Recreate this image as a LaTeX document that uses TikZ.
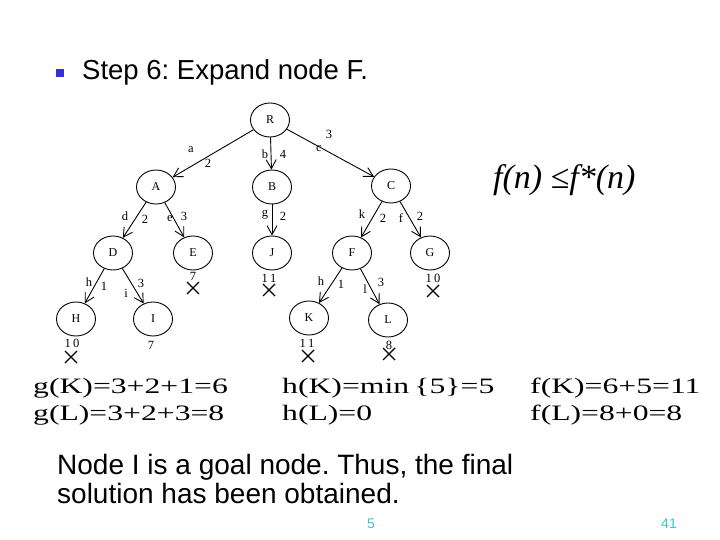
\documentclass[tikz,border=0pt]{standalone}
\usepackage{fontspec}
\setmainfont{Liberation Serif}
\newfontfamily\arial{Liberation Sans}
\usetikzlibrary{arrows.meta,shapes.geometric}
\definecolor{bulletblue}{RGB}{51,51,204}
\definecolor{pageteal}{RGB}{64,196,196}
\tikzset{
  st/.style={ellipse,draw,line width=0.9pt,minimum width=39pt,minimum height=34pt,inner sep=0pt,font=\fontsize{12}{12}\selectfont},
  edge/.style={line width=0.9pt,-{Straight Barb[length=9pt,width=10pt,line width=0.9pt]}},
  lab/.style={font=\fontsize{12.5}{12.5}\selectfont,inner sep=0pt},
  xmark/.pic={\draw[line width=1.4pt] (-6,-6)--(6,6) (-6,6)--(6,-6);},
  eq/.style={font=\fontsize{22}{22}\selectfont,anchor=base west,inner sep=0pt},
  body/.style={font=\arial\fontsize{28}{28}\selectfont,anchor=base west,inner sep=0pt}
}
\newcommand{\wide}[1]{\scalebox{1.44}[1]{#1}}
\frenchspacing
\begin{document}
\begin{tikzpicture}[x=1pt,y=-1pt]
\useasboundingbox (0,0) rectangle (720,540);
% title
\fill[bulletblue] (56,69) rectangle (64,77);
\node[font=\arial\fontsize{27.5}{27.5}\selectfont,anchor=base west,inner sep=0pt] (title) at (82,80) {Step 6: Expand node F.};
% tree nodes
\node[st] (R) at (270,120) {R};
\node[st] (A) at (156,187) {A};
\node[st] (B) at (272,187) {B};
\node[st] (C) at (391,186) {C};
\node[st] (D) at (113,253) {D};
\node[st] (E) at (193,253) {E};
\node[st] (J) at (272,253) {J};
\node[st] (F) at (352,253) {F};
\node[st] (G) at (430,253) {G};
\node[st] (H) at (76,319) {H};
\node[st] (I) at (153,319) {I};
\node[st] (K) at (309,318) {K};
\node[st] (L) at (388,320) {L};
% edges
\draw[edge] (R) -- (A);
\draw[edge] (R) -- (B);
\draw[edge] (R) -- (C);
\draw[edge] (A) -- (D);
\draw[edge] (A) -- (E);
\draw[edge] (B) -- (J);
\draw[edge] (C) -- (F);
\draw[edge] (C) -- (G);
\draw[edge] (D) -- (H);
\draw[edge] (D) -- (I);
\draw[edge] (F) -- (K);
\draw[edge] (F) -- (L);
% edge labels
\node[lab] (la) at (191,150) {a};  \node[lab] (wa) at (208,163) {2};
\node[lab] (lb) at (265,154) {b};  \node[lab] (wb) at (283,154) {4};
\node[lab] (lc) at (319,149) {c};  \node[lab] (wc) at (329,134) {3};
\node[lab] (ld) at (125,216) {d};  \node[lab] (wd) at (145,219) {2};
\node[lab] (le) at (170,219) {e};  \node[lab] (we) at (184,216) {3};
\node[lab] (lg) at (265,215) {g};  \node[lab] (wg) at (283,216) {2};
\node[lab] (lk) at (362,214) {k};  \node[lab] (wk) at (383,218) {2};
\node[lab] (lf) at (401,218) {f};  \node[lab] (wf) at (420,216) {2};
\node[lab] (lh) at (89,282) {h};   \node[lab] (wh) at (104,286) {1};
\node[lab] (li) at (126,293) {i};  \node[lab] (wi) at (141,283) {3};
\node[lab] (lh2) at (321,281) {h}; \node[lab] (wh2) at (341,284) {1};
\node[lab] (ll) at (365,289) {l};  \node[lab] (wl) at (381,282) {3};
% costs and crosses
\node[lab] (cE) at (193,276) {7};   \pic at (193,288) {xmark};
\node[lab] (cJ) at (269,278) {1\,1};  \pic at (269,290) {xmark};
\node[lab] (cG) at (433,278) {1\,0};  \pic at (433,291) {xmark};
\node[lab] (cH) at (72,343) {1\,0};   \pic at (71,357) {xmark};
\node[lab] (cI) at (151,345) {7};
\node[lab] (cK) at (307,343) {1\,1};  \pic at (308,356) {xmark};
\node[lab] (cL) at (389,345) {8};     \pic at (389,354) {xmark};
% f(n) <= f*(n)
\node[font=\fontsize{34}{34}\selectfont,anchor=base west,inner sep=0pt] (fn) at (493,189) {\itshape f(n) \upshape≤\itshape f*(n)};
% equations
\node[eq] (gK) at (33,393) {\wide{g(K)=3+2+1=6}};
\node[eq] (gL) at (33,420) {\wide{g(L)=3+2+3=8}};
\node[eq] (hK) at (282,393) {\wide{h(K)=min\,\{5\}=5}};
\node[eq] (hL) at (282,420) {\wide{h(L)=0}};
\node[eq] (fK) at (530,393) {\wide{f(K)=6+5=11}};
\node[eq] (fL) at (530,420) {\wide{f(L)=8+0=8}};
% body text
\node[body] (t1) at (57,474) {Node I is a goal node. Thus, the final};
\node[body] (t2) at (57,503) {solution has been obtained.};
% page numbers
\node[font=\arial\fontsize{14}{14}\selectfont,text=pageteal,inner sep=0pt] (p1) at (371,524) {5};
\node[font=\arial\fontsize{14}{14}\selectfont,text=pageteal,inner sep=0pt] (p2) at (669,524) {41};
\end{tikzpicture}
\end{document}
